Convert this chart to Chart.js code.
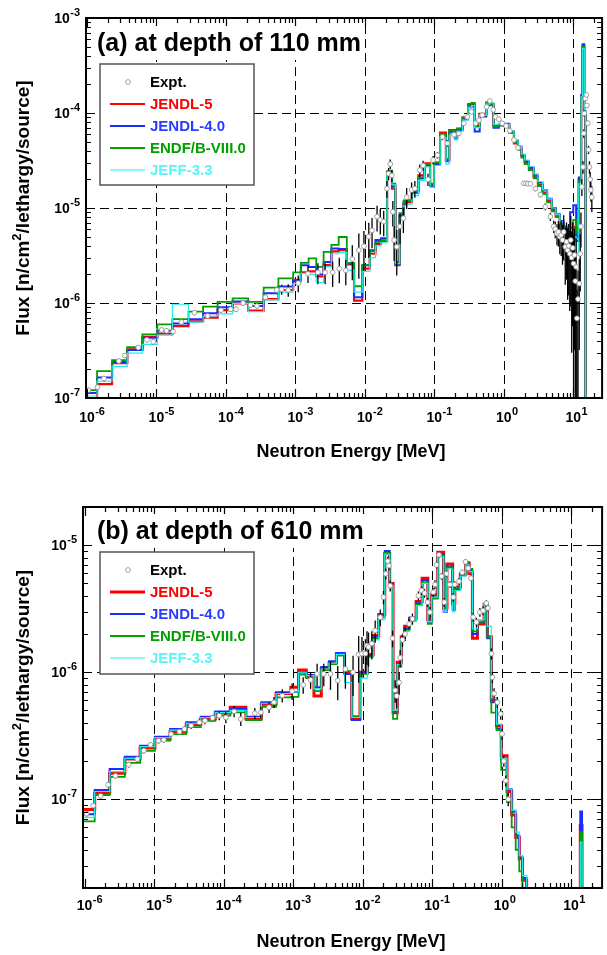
<!DOCTYPE html>
<html>
<head>
<meta charset="utf-8">
<script src="https://cdn.jsdelivr.net/npm/chart.js@4.4.1/dist/chart.umd.min.js"></script>
<style>
  html, body { margin: 0; padding: 0; background: #fff; }
  canvas { display: block; }
</style>
</head>
<body>
<canvas id="chartA" width="607" height="477"></canvas>
<canvas id="chartB" width="607" height="478"></canvas>
<script>
// group boundaries of the calculated spectra [MeV]
const energyEdges = [
  9.0e-7, 1.4e-6, 2.3e-6, 3.8e-6, 6.3e-6, 1.03e-5, 1.7e-5, 2.9e-5, 4.7e-5, 7.6e-5, 1.25e-4, 2.1e-4, 3.5e-4, 5.7e-4, 9.3e-4,
  1.2e-3, 1.55e-3, 2.0e-3, 2.55e-3, 3.3e-3, 4.2e-3, 5.5e-3, 7.0e-3, 9.2e-3,
  1.18e-2, 1.42e-2, 1.71e-2, 2.09e-2, 2.46e-2, 2.75e-2, 3.16e-2, 3.61e-2, 4.03e-2, 4.75e-2, 5.9e-2, 7.2e-2, 8.7e-2, 9.9e-2,
  0.121, 0.147, 0.164, 0.198, 0.213, 0.255, 0.306, 0.342, 0.381, 0.45, 0.561, 0.625, 0.713, 0.849, 0.99,
  1.2, 1.4, 1.6, 1.8, 2.0, 2.3, 2.7, 3.1, 3.6, 4.2, 4.9, 5.6, 6.4, 7.2, 8.0, 9.0, 10.0, 11.0, 12.0, 13.0, 13.6, 14.4, 15.0, 17.0, 20.0
];

// (a) depth 110 mm, flux per group
const jendl5A = [
  0.98e-7, 1.40e-7, 2.33e-7, 3.25e-7, 4.40e-7, 4.75e-7, 5.70e-7, 6.40e-7, 7.00e-7, 8.40e-7,
  9.90e-7, 8.30e-7, 1.10e-6, 1.37e-6, 1.75e-6, 2.10e-6, 2.15e-6, 1.90e-6, 2.50e-6, 3.50e-6,
  3.60e-6, 2.55e-6, 1.06e-6, 2.30e-6, 3.30e-6, 4.20e-6, 4.50e-6, 2.40e-5, 1.60e-5, 2.50e-6,
  8.20e-6, 1.10e-5, 1.15e-5, 1.50e-5, 2.20e-5, 2.95e-5, 1.75e-5, 3.00e-5, 6.20e-5, 3.20e-5,
  6.60e-5, 5.50e-5, 6.80e-5, 9.00e-5, 1.22e-4, 1.25e-4, 7.50e-5, 9.80e-5, 1.27e-4, 1.22e-4,
  7.40e-5, 7.60e-5, 7.40e-5, 6.20e-5, 4.80e-5, 4.20e-5, 3.50e-5, 3.00e-5, 2.55e-5, 2.10e-5,
  1.75e-5, 1.45e-5, 1.18e-5, 9.50e-6, 8.20e-6, 7.00e-6, 6.10e-6, 5.50e-6, 5.00e-6, 6.30e-6,
  5.00e-6, 2.00e-5, 1.50e-4, 5.00e-4, 1.00e-4, 1e-9, 1e-9
];
const jendl4A = [
  1.13e-7, 1.64e-7, 2.40e-7, 3.20e-7, 4.30e-7, 5.10e-7, 6.10e-7, 6.75e-7, 7.80e-7, 9.00e-7,
  1.04e-6, 9.30e-7, 1.27e-6, 1.49e-6, 1.70e-6, 2.50e-6, 2.40e-6, 2.00e-6, 2.70e-6, 3.75e-6,
  3.70e-6, 2.60e-6, 1.15e-6, 2.50e-6, 3.60e-6, 4.60e-6, 4.80e-6, 2.35e-5, 1.70e-5, 2.55e-6,
  8.50e-6, 1.15e-5, 1.20e-5, 1.45e-5, 2.05e-5, 2.80e-5, 1.70e-5, 2.90e-5, 5.80e-5, 3.10e-5,
  6.30e-5, 5.40e-5, 6.60e-5, 8.60e-5, 1.15e-4, 1.20e-4, 6.40e-5, 9.20e-5, 1.20e-4, 1.25e-4,
  7.00e-5, 7.40e-5, 7.70e-5, 6.40e-5, 5.10e-5, 4.40e-5, 3.60e-5, 3.10e-5, 2.65e-5, 2.20e-5,
  1.85e-5, 1.55e-5, 1.25e-5, 1.00e-5, 8.60e-6, 7.30e-6, 6.40e-6, 5.80e-6, 9.00e-6, 1.07e-5,
  4.50e-6, 2.10e-5, 1.55e-4, 5.30e-4, 1.05e-4, 1e-9, 1e-9
];
const endfA = [
  1.21e-7, 1.92e-7, 2.51e-7, 3.42e-7, 4.68e-7, 5.97e-7, 6.75e-7, 8.10e-7, 9.14e-7, 1.03e-6,
  1.12e-6, 1.03e-6, 1.45e-6, 1.82e-6, 2.10e-6, 2.65e-6, 2.95e-6, 2.40e-6, 3.45e-6, 4.10e-6,
  4.95e-6, 2.65e-6, 1.50e-6, 2.50e-6, 3.50e-6, 4.40e-6, 4.60e-6, 2.45e-5, 1.80e-5, 2.70e-6,
  8.80e-6, 1.20e-5, 1.20e-5, 1.50e-5, 2.10e-5, 2.90e-5, 1.80e-5, 3.00e-5, 6.00e-5, 3.30e-5,
  6.50e-5, 5.60e-5, 6.90e-5, 9.00e-5, 1.25e-4, 1.28e-4, 7.20e-5, 9.80e-5, 1.30e-4, 1.22e-4,
  7.20e-5, 7.50e-5, 7.30e-5, 6.20e-5, 4.90e-5, 4.10e-5, 3.40e-5, 2.90e-5, 2.50e-5, 2.05e-5,
  1.70e-5, 1.40e-5, 1.15e-5, 9.20e-6, 8.00e-6, 6.80e-6, 6.00e-6, 5.40e-6, 6.20e-6, 7.50e-6,
  5.50e-6, 1.90e-5, 1.45e-4, 5.00e-4, 1.00e-4, 1e-9, 1e-9
];
const jeffA = [
  1.05e-7, 1.50e-7, 2.15e-7, 2.97e-7, 3.66e-7, 4.60e-7, 9.70e-7, 6.30e-7, 7.30e-7, 7.70e-7,
  9.90e-7, 8.10e-7, 1.08e-6, 1.30e-6, 1.60e-6, 2.05e-6, 2.00e-6, 1.65e-6, 2.40e-6, 3.30e-6,
  3.40e-6, 2.20e-6, 1.30e-6, 2.15e-6, 3.00e-6, 4.00e-6, 4.30e-6, 2.30e-5, 1.75e-5, 2.60e-6,
  7.80e-6, 1.05e-5, 1.10e-5, 1.35e-5, 1.95e-5, 2.70e-5, 1.65e-5, 2.80e-5, 5.50e-5, 2.90e-5,
  5.80e-5, 5.20e-5, 6.40e-5, 8.40e-5, 1.15e-4, 1.20e-4, 7.00e-5, 9.50e-5, 1.24e-4, 1.28e-4,
  7.60e-5, 7.80e-5, 7.60e-5, 6.50e-5, 5.20e-5, 4.50e-5, 3.70e-5, 3.20e-5, 2.75e-5, 2.30e-5,
  1.90e-5, 1.55e-5, 1.25e-5, 1.00e-5, 8.50e-6, 7.20e-6, 6.20e-6, 5.50e-6, 4.80e-6, 5.00e-6,
  3.40e-6, 1.80e-5, 1.50e-4, 4.80e-4, 1.10e-4, 1e-9, 1e-9
];
const exptEnergyA = [
  1.05e-6, 1.42e-6, 1.76e-6, 2.88e-6, 3.5e-6, 5.5e-6, 7.3e-6, 9.0e-6, 1.19e-5, 1.4e-5, 1.74e-5,
  2.29e-5, 3.53e-5, 5.46e-5, 8.5e-5, 1.17e-4, 1.4e-4, 1.77e-4, 2.26e-4, 2.8e-4, 3.7e-4, 5.4e-4,
  6.35e-4, 7.9e-4, 1.1e-3, 1.52e-3, 2.11e-3, 2.68e-3, 3.44e-3, 4.29e-3, 5.32e-3, 6.6e-3,
  8.2e-3, 9.7e-3, 1.14e-2, 1.27e-2, 1.5e-2, 1.67e-2, 1.87e-2, 2.08e-2, 2.2e-2, 2.32e-2,
  2.45e-2, 2.53e-2, 2.64e-2, 2.88e-2, 3.21e-2, 3.59e-2, 4.0e-2, 4.71e-2, 5.25e-2, 6.18e-2,
  6.9e-2, 8.1e-2, 9.6e-2,
  0.111, 0.131, 0.154, 0.192, 0.226, 0.267, 0.298, 0.341, 0.393, 0.439,
  0.49, 0.566, 0.63, 0.705, 0.76, 0.849, 0.95, 1.08, 1.22, 1.4,
  1.6, 1.94, 2.1, 2.23, 2.42, 2.85, 3.37, 3.96,
  4.68, 5.23, 5.5, 5.83, 6.1, 6.4, 6.7, 7.0, 7.28, 7.67,
  8.0, 8.3, 8.6, 8.9, 9.2, 9.5, 9.8, 10.1, 10.4, 10.7,
  11.0, 11.3, 11.7, 12.2, 12.6, 12.9, 13.3, 13.8, 14.1, 14.4,
  14.9, 15.4, 15.7, 16.2, 16.6, 17.1, 17.5, 17.9, 18.5
];
const exptFluxA = [
  1.21e-7, 1.30e-7, 1.60e-7, 2.45e-7, 2.80e-7, 3.40e-7, 4.10e-7, 3.90e-7, 5.20e-7, 5.10e-7, 5.00e-7,
  6.30e-7, 7.90e-7, 7.30e-7, 8.40e-7, 8.60e-7, 8.60e-7, 1.00e-6, 9.50e-7, 9.30e-7, 1.15e-6, 1.37e-6,
  1.39e-6, 1.37e-6, 1.62e-6, 2.03e-6, 2.10e-6, 2.10e-6, 2.10e-6, 2.30e-6, 2.20e-6, 2.90e-6,
  3.60e-6, 3.96e-6, 5.00e-6, 5.80e-6, 8.10e-6, 7.50e-6, 7.20e-6, 1.60e-5, 2.30e-5, 2.90e-5,
  2.20e-5, 9.10e-6, 4.60e-6, 3.90e-6, 6.40e-6, 7.80e-6, 1.30e-5, 1.55e-5, 1.60e-5, 2.50e-5,
  2.80e-5, 2.00e-5, 3.20e-5,
  3.6e-5, 5.6e-5, 4.8e-5, 5.9e-5, 6.1e-5, 7.8e-5, 9.1e-5, 1.03e-4, 7.8e-5, 8.4e-5,
  9.5e-5, 1.16e-4, 1.34e-4, 1.08e-4, 9.1e-5, 8.6e-5, 7.8e-5, 7.3e-5, 6.5e-5, 5.2e-5,
  4.3e-5, 1.82e-5, 1.82e-5, 1.8e-5, 1.8e-5, 1.6e-5, 1.38e-5, 1.03e-5,
  8.1e-6, 6.4e-6, 6.0e-6, 5.4e-6, 5.6e-6, 5.0e-6, 5.2e-6, 4.6e-6, 5.6e-6, 3.9e-6,
  4.4e-6, 3.6e-6, 4.0e-6, 3.3e-6, 4.6e-6, 3.0e-6, 3.8e-6, 2.6e-6, 3.2e-6, 1.7e-6,
  2.4e-6, 6.9e-7, 1.1e-6, 1.6e-6, 3.3e-6, 6.4e-6, 1.67e-5, 2.7e-5, 6.1e-5, 9.9e-5,
  1.42e-4, 1.55e-4, 1.2e-4, 7.8e-5, 4.1e-5, 2.7e-5, 2.0e-5, 1.55e-5, 1.3e-5
];
const exptErrA = [
  .06, .06, .06, .06, .06, .06, .06, .06, .06, .06, .06,
  .06, .06, .06, .06, .06, .06, .06, .06, .06, .06, .06,
  .12, .15, .2, .2, .25, .25, .3, .3, .3, .4,
  .5, .45, .4, .35, .3, .3, .3, .2, .15, .12,
  .15, .3, .4, .5, .35, .3, .25, .2, .2, .15,
  .12, .15, .1,
  .08, .08, .08, .06, .06, .05, .05, .05, .05, .05,
  .05, .05, .05, .05, .05, .05, .05, .05, .05, .05,
  .05, .05, .05, .05, .05, .06, .06, .08,
  .1, .15, .2, .25, .3, .35, .4, .45, .5, .6,
  .6, .7, .7, .75, .8, .9, .85, 1, .9, 1,
  1, 1, 1, .8, .6, .4, .2, .15, .1, .08,
  .05, .05, .05, .06, .1, .15, .2, .25, .3
];

// (b) depth 610 mm, flux per group
const jendl5B = [
  8.3e-8, 1.12e-7, 1.60e-7, 2.07e-7, 2.53e-7, 2.95e-7, 3.40e-7, 3.87e-7, 4.28e-7, 4.77e-7,
  5.30e-7, 4.30e-7, 5.60e-7, 6.80e-7, 7.60e-7, 1.04e-6, 9.30e-7, 6.50e-7, 1.07e-6, 1.18e-6,
  1.40e-6, 1.00e-6, 4.30e-7, 1.00e-6, 1.38e-6, 1.95e-6, 2.85e-6, 8.60e-6, 5.00e-6, 4.80e-7,
  1.20e-6, 1.90e-6, 2.30e-6, 2.65e-6, 3.60e-6, 5.50e-6, 2.60e-6, 4.10e-6, 8.80e-6, 3.20e-6,
  7.10e-6, 3.50e-6, 4.70e-6, 5.90e-6, 7.20e-6, 6.00e-6, 1.85e-6, 2.40e-6, 3.40e-6, 1.90e-6,
  6.00e-7, 3.80e-7, 2.20e-7, 1.15e-7, 7.5e-8, 5.0e-8, 3.4e-8, 2.3e-8, 1.5e-8, 1e-9,
  1e-9, 1e-9, 1e-9, 1e-9, 1e-9, 1e-9, 1e-9, 1e-9, 1e-9, 1e-9,
  1e-9, 1e-9, 1e-9, 6.2e-8, 1e-9, 1e-9, 1e-9
];
const jendl4B = [
  7.6e-8, 1.18e-7, 1.73e-7, 2.16e-7, 2.64e-7, 3.10e-7, 3.57e-7, 4.03e-7, 4.46e-7, 4.90e-7,
  5.14e-7, 4.46e-7, 5.80e-7, 6.95e-7, 7.00e-7, 1.00e-6, 9.50e-7, 7.60e-7, 1.10e-6, 1.22e-6,
  1.42e-6, 9.70e-7, 4.20e-7, 9.80e-7, 1.35e-6, 1.90e-6, 2.80e-6, 9.00e-6, 4.90e-6, 4.90e-7,
  1.15e-6, 1.85e-6, 2.20e-6, 2.70e-6, 3.50e-6, 5.30e-6, 2.50e-6, 3.90e-6, 8.50e-6, 3.00e-6,
  6.80e-6, 3.10e-6, 4.50e-6, 6.00e-6, 7.30e-6, 6.30e-6, 2.00e-6, 2.50e-6, 3.30e-6, 1.85e-6,
  5.80e-7, 3.60e-7, 2.00e-7, 1.20e-7, 8.0e-8, 5.2e-8, 3.5e-8, 2.4e-8, 1.6e-8, 1e-9,
  1e-9, 1e-9, 1e-9, 1e-9, 1e-9, 1e-9, 1e-9, 1e-9, 1e-9, 1e-9,
  1e-9, 1e-9, 1e-9, 8.0e-8, 1e-9, 1e-9, 1e-9
];
const endfB = [
  6.7e-8, 1.08e-7, 1.50e-7, 1.93e-7, 2.40e-7, 2.90e-7, 3.26e-7, 3.70e-7, 4.15e-7, 4.55e-7,
  4.83e-7, 4.20e-7, 5.35e-7, 6.35e-7, 6.40e-7, 9.60e-7, 9.00e-7, 7.10e-7, 1.04e-6, 1.16e-6,
  1.35e-6, 1.02e-6, 4.50e-7, 9.70e-7, 1.32e-6, 1.85e-6, 2.70e-6, 8.70e-6, 4.70e-6, 4.30e-7,
  1.10e-6, 1.80e-6, 2.15e-6, 2.55e-6, 3.40e-6, 5.10e-6, 2.40e-6, 3.80e-6, 8.30e-6, 3.20e-6,
  6.70e-6, 3.40e-6, 4.60e-6, 5.80e-6, 7.40e-6, 6.50e-6, 2.10e-6, 2.50e-6, 3.50e-6, 1.90e-6,
  4.80e-7, 3.50e-7, 1.70e-7, 9.50e-8, 6.0e-8, 4.0e-8, 2.7e-8, 1.9e-8, 1.2e-8, 1e-9,
  1e-9, 1e-9, 1e-9, 1e-9, 1e-9, 1e-9, 1e-9, 1e-9, 1e-9, 1e-9,
  1e-9, 1e-9, 1e-9, 5.5e-8, 1e-9, 1e-9, 1e-9
];
const jeffB = [
  7.2e-8, 1.15e-7, 1.65e-7, 2.10e-7, 2.60e-7, 3.05e-7, 3.50e-7, 3.95e-7, 4.40e-7, 4.80e-7,
  5.00e-7, 4.40e-7, 5.70e-7, 6.80e-7, 7.00e-7, 1.00e-6, 9.40e-7, 7.40e-7, 1.06e-6, 1.18e-6,
  1.38e-6, 8.30e-7, 4.40e-7, 9.00e-7, 1.30e-6, 1.80e-6, 2.60e-6, 8.50e-6, 4.80e-6, 5.00e-7,
  1.15e-6, 1.80e-6, 2.10e-6, 2.50e-6, 3.35e-6, 5.00e-6, 2.50e-6, 3.90e-6, 8.10e-6, 3.00e-6,
  6.50e-6, 3.00e-6, 4.40e-6, 5.70e-6, 7.00e-6, 6.20e-6, 2.20e-6, 2.60e-6, 3.40e-6, 2.30e-6,
  6.30e-7, 3.90e-7, 2.10e-7, 1.20e-7, 8.2e-8, 5.5e-8, 3.6e-8, 2.5e-8, 1.6e-8, 1e-9,
  1e-9, 1e-9, 1e-9, 1e-9, 1e-9, 1e-9, 1e-9, 1e-9, 1e-9, 1e-9,
  1e-9, 1e-9, 1e-9, 4.6e-8, 1e-9, 1e-9, 1e-9
];
const exptEnergyB = [
  1.07e-6, 1.33e-6, 1.71e-6, 2.18e-6, 2.78e-6, 4.31e-6, 5.74e-6, 7.14e-6, 8.9e-6, 1.16e-5,
  1.38e-5, 1.76e-5, 2.32e-5, 2.73e-5, 3.41e-5, 4.49e-5, 5.41e-5, 6.95e-5, 8.67e-5, 1.08e-4,
  1.42e-4, 1.77e-4, 2.82e-4, 3.44e-4, 4.52e-4, 5.32e-4, 7.0e-4, 9.7e-4, 1.4e-3, 1.79e-3,
  2.22e-3, 2.77e-3, 3.46e-3, 4.4e-3, 5.67e-3, 7.3e-3, 8.8e-3, 9.8e-3, 1.1e-2, 1.16e-2,
  1.22e-2, 1.36e-2, 1.52e-2, 1.8e-2, 2.0e-2, 2.16e-2, 2.31e-2, 2.4e-2, 2.5e-2, 2.7e-2,
  2.95e-2, 3.1e-2, 3.37e-2, 3.48e-2, 3.76e-2, 4.1e-2, 4.68e-2, 5.22e-2, 6.37e-2, 7.1e-2,
  7.8e-2, 8.65e-2, 9.36e-2, 0.104, 0.11, 0.116, 0.126, 0.137, 0.15, 0.162,
  0.181, 0.202, 0.212, 0.244, 0.272, 0.303, 0.331, 0.362, 0.391, 0.435,
  0.488, 0.543, 0.605, 0.64, 0.714, 0.74, 0.782, 0.871, 0.975, 1.02,
  1.08, 1.15, 1.25
];
const exptFluxB = [
  7.7e-8, 8.9e-8, 1.06e-7, 1.3e-7, 1.53e-7, 1.87e-7, 2.07e-7, 2.41e-7, 2.68e-7, 2.89e-7,
  2.93e-7, 3.26e-7, 3.4e-7, 3.57e-7, 3.8e-7, 4.03e-7, 4.15e-7, 4.36e-7, 4.55e-7, 4.4e-7,
  4.92e-7, 4.28e-7, 4.75e-7, 4.83e-7, 5.3e-7, 5.8e-7, 6.55e-7, 7.1e-7, 7.95e-7, 8.7e-7,
  9.7e-7, 9.7e-7, 9.7e-7, 8.6e-7, 1.06e-6, 1.0e-6, 1.38e-6, 1.4e-6, 1.4e-6, 1.62e-6,
  1.58e-6, 1.68e-6, 2.13e-6, 2.71e-6, 3.9e-6, 5.96e-6, 7.5e-6, 6.9e-6, 4.8e-6, 1.85e-6,
  7.2e-7, 6.5e-7, 8.3e-7, 1.3e-6, 1.8e-6, 2.0e-6, 2.4e-6, 2.63e-6, 4.0e-6, 4.4e-6,
  4.2e-6, 3.56e-6, 2.97e-6, 4.27e-6, 4.9e-6, 7.0e-6, 8.4e-6, 5.7e-6, 3.56e-6, 5.96e-6,
  4.9e-6, 3.9e-6, 4.9e-6, 5.2e-6, 6.1e-6, 7.4e-6, 6.6e-6, 5.5e-6, 2.71e-6, 2.48e-6,
  2.97e-6, 3.05e-6, 3.5e-6, 3.2e-6, 1.4e-6, 9.1e-7, 6.8e-7, 5.8e-7, 4.7e-7, 3.27e-7,
  2.0e-7, 1.4e-7, 1.0e-7
];
const exptErrB = [
  .05, .05, .05, .05, .05, .05, .05, .05, .05, .05,
  .05, .05, .05, .05, .06, .06, .06, .06, .08, .1,
  .1, .12, .1, .1, .1, .1, .12, .15, .15, .15,
  .2, .2, .25, .3, .3, .35, .4, .35, .3, .3,
  .3, .25, .2, .15, .12, .1, .08, .08, .1, .15,
  .2, .2, .2, .15, .12, .12, .1, .1, .08, .08,
  .08, .08, .1, .08, .08, .06, .05, .06, .08, .06,
  .06, .08, .06, .06, .05, .05, .05, .05, .08, .08,
  .08, .08, .06, .06, .1, .1, .1, .1, .1, .1,
  .1, .1, .12
];

const xTickExponents = [-6, -5, -4, -3, -2, -1, 0, 1];
const yTickExponentsA = [-7, -6, -5, -4, -3];
const yTickExponentsB = [-7, -6, -5];

const FONT = '"Liberation Sans", Arial, Helvetica, sans-serif';

function stepData(values) {
  const pts = values.map((v, i) => ({ x: energyEdges[i], y: v }));
  pts.push({ x: energyEdges[values.length], y: values[values.length - 1] });
  return pts;
}

function pointData(energy, flux) {
  return energy.map((e, i) => ({ x: e, y: flux[i] }));
}

function drawGrid(chart, p) {
  const { ctx, chartArea: a, scales: { x, y } } = chart;
  ctx.save();
  ctx.strokeStyle = '#000';
  ctx.lineWidth = 1;
  ctx.setLineDash([9, 5]);
  xTickExponents.forEach(e => {
    const px = Math.round(x.getPixelForValue(Math.pow(10, e))) + 0.5;
    if (px < a.left + 3 || px > a.right - 3) return;
    ctx.beginPath(); ctx.moveTo(px, a.bottom); ctx.lineTo(px, a.top); ctx.stroke();
  });
  p.yTicks.forEach(e => {
    const py = Math.round(y.getPixelForValue(Math.pow(10, e))) + 0.5;
    if (py < a.top + 3 || py > a.bottom - 3) return;
    ctx.beginPath(); ctx.moveTo(a.left, py); ctx.lineTo(a.right, py); ctx.stroke();
  });
  ctx.restore();
}

function drawErrorBars(chart, ds) {
  const { ctx, chartArea: a, scales: { x, y } } = chart;
  ctx.save();
  ctx.beginPath();
  ctx.rect(a.left, a.top, a.right - a.left, a.bottom - a.top);
  ctx.clip();
  ctx.strokeStyle = '#000';
  ctx.lineWidth = 1.3;
  ds.data.forEach((pt, i) => {
    const r = ds.errors[i];
    const px = x.getPixelForValue(pt.x);
    const top = y.getPixelForValue(pt.y * (1 + r));
    const bottom = r >= 1 ? a.bottom + 5 : y.getPixelForValue(pt.y * (1 - r));
    ctx.beginPath(); ctx.moveTo(px, top); ctx.lineTo(px, bottom); ctx.stroke();
  });
  ctx.restore();
}

function drawFrame(chart, p) {
  const { ctx, chartArea: a, scales: { x, y } } = chart;
  ctx.save();
  ctx.strokeStyle = '#000';
  ctx.setLineDash([]);
  ctx.lineWidth = 1.2;
  for (let d = -9; d <= 2; d++) {
    for (let m = 1; m <= 9; m++) {
      const v = m * Math.pow(10, d);
      const len = m === 1 ? 9 : 5;
      if (v >= x.min * 0.999 && v <= x.max * 1.001) {
        const px = Math.round(x.getPixelForValue(v)) + 0.5;
        ctx.beginPath();
        ctx.moveTo(px, a.bottom); ctx.lineTo(px, a.bottom - len);
        ctx.moveTo(px, a.top); ctx.lineTo(px, a.top + len);
        ctx.stroke();
      }
      if (v >= y.min * 0.999 && v <= y.max * 1.001) {
        const py = Math.round(y.getPixelForValue(v)) + 0.5;
        ctx.beginPath();
        ctx.moveTo(a.left, py); ctx.lineTo(a.left + len, py);
        ctx.moveTo(a.right, py); ctx.lineTo(a.right - len, py);
        ctx.stroke();
      }
    }
  }
  ctx.lineWidth = 2;
  ctx.strokeRect(a.left, a.top, a.right - a.left, a.bottom - a.top);

  // tick labels 10^n
  ctx.fillStyle = '#000';
  ctx.textBaseline = 'alphabetic';
  xTickExponents.forEach(e => {
    const px = x.getPixelForValue(Math.pow(10, e));
    ctx.font = 'bold 14px ' + FONT;
    const w = ctx.measureText('10').width;
    ctx.textAlign = 'center';
    ctx.fillText('10', px, p.xLabelY);
    ctx.font = 'bold 11px ' + FONT;
    ctx.textAlign = 'left';
    ctx.fillText(String(e), px + w / 2 + 0.5, p.xLabelY - 7);
  });
  p.yTicks.forEach(e => {
    const py = y.getPixelForValue(Math.pow(10, e));
    ctx.font = 'bold 11px ' + FONT;
    const we = ctx.measureText(String(e)).width;
    const right = a.left - 6;
    ctx.textAlign = 'left';
    ctx.fillText(String(e), right - we, py - 2);
    ctx.font = 'bold 14px ' + FONT;
    ctx.textAlign = 'right';
    ctx.fillText('10', right - we - 0.5, py + 5);
  });

  // axis titles
  ctx.font = 'bold 18px ' + FONT;
  ctx.textAlign = 'center';
  ctx.fillText('Neutron Energy [MeV]', p.xTitleX, p.xTitleY);

  const parts = [['Flux [n/cm', 19, 0], ['2', 13, -8], ['/lethargy/source]', 19, 0]];
  ctx.save();
  ctx.translate(p.yTitleX, (a.top + a.bottom) / 2);
  ctx.rotate(-Math.PI / 2);
  ctx.textAlign = 'left';
  let total = 0;
  parts.forEach(s => { ctx.font = 'bold ' + s[1] + 'px ' + FONT; total += ctx.measureText(s[0]).width; });
  let cx = -total / 2;
  parts.forEach(s => {
    ctx.font = 'bold ' + s[1] + 'px ' + FONT;
    ctx.fillText(s[0], cx, s[2]);
    cx += ctx.measureText(s[0]).width;
  });
  ctx.restore();
  ctx.restore();
}

function drawTitleAndLegend(chart, p) {
  const { ctx } = chart;
  ctx.save();
  ctx.font = 'bold 25px ' + FONT;
  ctx.textAlign = 'left';
  ctx.textBaseline = 'alphabetic';
  const tw = ctx.measureText(p.title).width;
  ctx.fillStyle = '#fff';
  ctx.fillRect(p.titleX - 3, p.titleY - 25, tw + 6, 34);
  ctx.fillStyle = '#000';
  ctx.fillText(p.title, p.titleX, p.titleY);

  const [bx, by, bw, bh] = p.legendBox;
  ctx.fillStyle = '#fff';
  ctx.fillRect(bx, by, bw, bh);
  ctx.strokeStyle = '#555';
  ctx.lineWidth = 1.5;
  ctx.strokeRect(bx, by, bw, bh);
  ctx.font = 'bold 15px ' + FONT;
  ctx.textBaseline = 'middle';
  chart.data.datasets.forEach((ds, i) => {
    const ry = by + 18 + i * 22;
    if (ds.showLine === false) {
      ctx.beginPath();
      ctx.arc(bx + 28, ry, 2.4, 0, Math.PI * 2);
      ctx.fillStyle = '#fff'; ctx.fill();
      ctx.strokeStyle = ds.pointBorderColor; ctx.lineWidth = 0.9; ctx.stroke();
    } else {
      ctx.beginPath();
      ctx.moveTo(bx + 10, ry); ctx.lineTo(bx + 45, ry);
      ctx.strokeStyle = ds.borderColor; ctx.lineWidth = ds.borderWidth; ctx.stroke();
    }
    ctx.fillStyle = ds.legendColor;
    ctx.fillText(ds.label, bx + 50, ry + 1);
  });
  ctx.restore();
}

function makePanel(id, p) {
  const datasets = [
    { label: 'Expt.', data: pointData(p.exptE, p.exptF), errors: p.exptErr, showLine: false,
      pointRadius: 2.4, pointBorderWidth: 0.9, pointBorderColor: '#9a9a9a', pointBackgroundColor: '#fff',
      legendColor: '#000', order: 0 },
    { label: 'JENDL-5', data: stepData(p.j5), borderColor: '#ff0000', borderWidth: p.redWidth, legendColor: '#ff0000', order: 4 },
    { label: 'JENDL-4.0', data: stepData(p.j4), borderColor: '#1a2cff', borderWidth: 2, legendColor: '#2a3cff', order: 3 },
    { label: 'ENDF/B-VIII.0', data: stepData(p.endf), borderColor: '#00a000', borderWidth: 1.8, legendColor: '#00a000', order: 2 },
    { label: 'JEFF-3.3', data: stepData(p.jeff), borderColor: '#22eeee', borderWidth: 1.2, legendColor: '#5cf4f4', order: 1 }
  ];
  datasets.slice(1).forEach(d => { d.stepped = true; d.pointRadius = 0; d.fill = false; d.tension = 0; });

  const plugin = {
    id: 'panel' + id,
    beforeDatasetsDraw(chart) { drawGrid(chart, p); },
    beforeDatasetDraw(chart, args) {
      const ds = chart.data.datasets[args.index];
      if (ds.errors) drawErrorBars(chart, ds);
    },
    afterDraw(chart) { drawFrame(chart, p); drawTitleAndLegend(chart, p); }
  };

  new Chart(document.getElementById(id), {
    type: 'line',
    data: { datasets },
    options: {
      responsive: false,
      animation: false,
      devicePixelRatio: 1,
      layout: { padding: p.pad },
      scales: {
        x: { type: 'logarithmic', min: p.xMin, max: p.xMax, display: false },
        y: { type: 'logarithmic', min: p.yMin, max: p.yMax, display: false }
      },
      plugins: { legend: { display: false }, tooltip: { enabled: false } }
    },
    plugins: [plugin]
  });
}

makePanel('chartA', {
  j5: jendl5A, j4: jendl4A, endf: endfA, jeff: jeffA,
  exptE: exptEnergyA, exptF: exptFluxA, exptErr: exptErrA,
  yTicks: yTickExponentsA, redWidth: 2.2,
  pad: { left: 86, right: 2, top: 18, bottom: 79 },
  xMin: 9.7e-7, xMax: 26, yMin: 1e-7, yMax: 1e-3,
  title: '(a) at depth of 110 mm', titleX: 97, titleY: 51,
  legendBox: [100, 64, 154, 121],
  xLabelY: 422, xTitleX: 351, xTitleY: 457, yTitleX: 29
});

makePanel('chartB', {
  j5: jendl5B, j4: jendl4B, endf: endfB, jeff: jeffB,
  exptE: exptEnergyB, exptF: exptFluxB, exptErr: exptErrB,
  yTicks: yTickExponentsB, redWidth: 3,
  pad: { left: 83, right: 1, top: 30, bottom: 67 },
  xMin: 9.5e-7, xMax: 28, yMin: 2e-8, yMax: 2e-5,
  title: '(b) at depth of 610 mm', titleX: 97, titleY: 62,
  legendBox: [100, 75, 154, 122],
  xLabelY: 433, xTitleX: 351, xTitleY: 470, yTitleX: 29
});
</script>
</body>
</html>
